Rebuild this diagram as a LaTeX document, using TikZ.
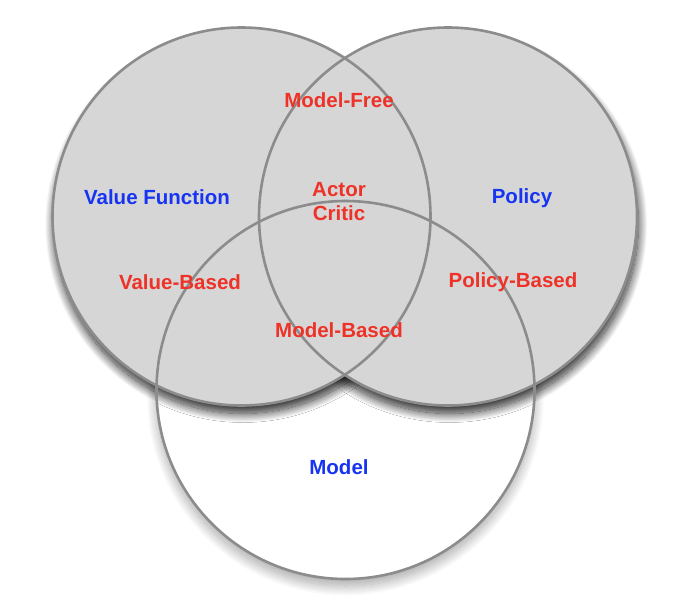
\documentclass[tikz,border=0pt]{standalone}
\usepackage{fontspec}
\setmainfont{Liberation Sans}
\usetikzlibrary{shadows.blur}
\definecolor{venngray}{RGB}{214,214,214}
\definecolor{edgegray}{RGB}{140,140,140}
\definecolor{lblred}{RGB}{238,50,40}
\definecolor{lblblue}{RGB}{22,52,242}
\tikzset{
  venn/.style={circle, inner sep=0pt, minimum size=378pt},
  darkshadow/.style={blur shadow={shadow xshift=1.5pt, shadow yshift=-8pt, shadow blur radius=9pt, shadow blur steps=24, shadow opacity=85}},
  lightshadow/.style={blur shadow={shadow xshift=0pt, shadow yshift=-7pt, shadow blur radius=10pt, shadow blur steps=24, shadow opacity=35}},
  edge/.style={draw=edgegray, line width=2.6pt},
  lbl/.style={font=\fontsize{20.5}{24}\selectfont\bfseries, inner sep=0pt, align=center},
  redlbl/.style={lbl, text=lblred},
  bluelbl/.style={lbl, text=lblblue}
}
\begin{document}
\begin{tikzpicture}[x=1pt, y=-1pt]
\useasboundingbox (0,0) rectangle (682,597);
% circles
\node[venn, fill=white, lightshadow] (model) at (345.5,390) {};
\node[venn, fill=venngray, darkshadow] (vf) at (241.5,216.5) {};
\node[venn, fill=venngray, darkshadow] (pol) at (448,216.5) {};
\fill[venngray] (vf.center) circle[radius=189pt];
% outlines
\draw[edge] (vf.center) circle[radius=189pt];
\draw[edge] (pol.center) circle[radius=189pt];
\draw[edge] (model.center) circle[radius=189pt];
% labels
\node[bluelbl] (lvf) at (157,197) {Value Function};
\node[bluelbl] (lpol) at (522,198) {Policy};
\node[bluelbl] (lmod) at (339,467) {Model};
\node[redlbl] (lmf) at (339,100) {Model-Free};
\node[redlbl] (lac) at (339,202) {Actor\\Critic};
\node[redlbl] (lvb) at (180,282) {Value-Based};
\node[redlbl] (lpb) at (513,282) {Policy-Based};
\node[redlbl] (lmb) at (339,330) {Model-Based};
\end{tikzpicture}
\end{document}
